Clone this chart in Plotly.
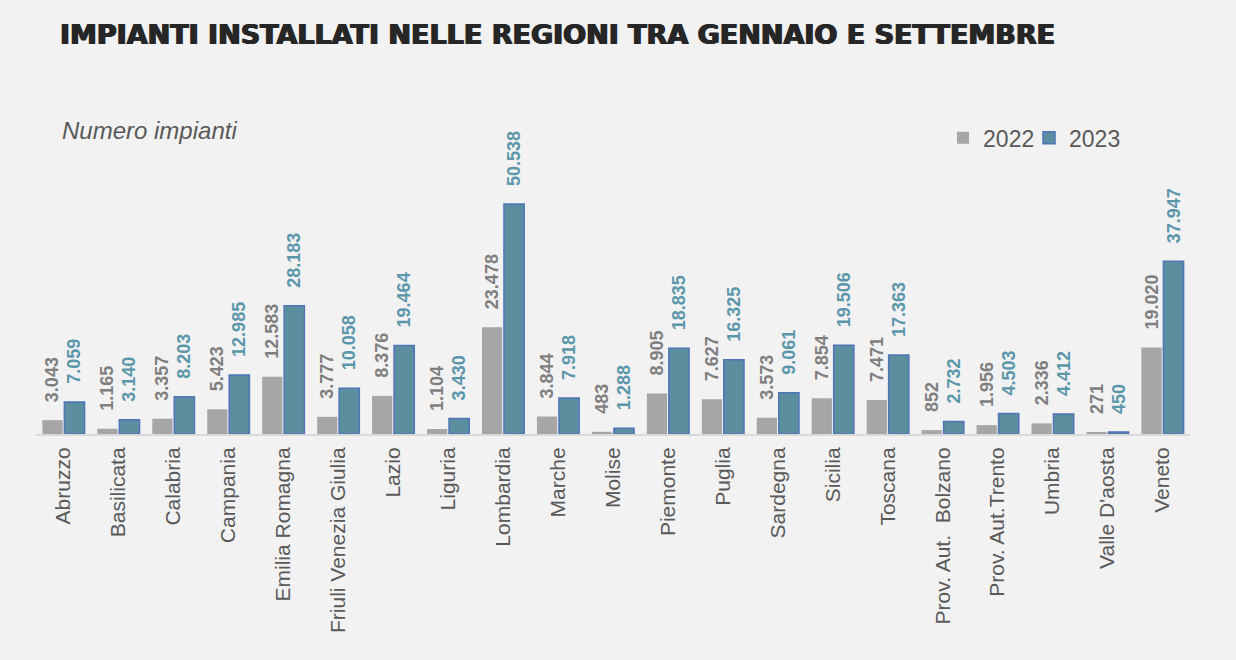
import plotly.graph_objects as go

# dati: impianti installati gen-set per regione
regioni = ["Abruzzo", "Basilicata", "Calabria", "Campania", "Emilia Romagna",
           "Friuli Venezia Giulia", "Lazio", "Liguria", "Lombardia", "Marche",
           "Molise", "Piemonte", "Puglia", "Sardegna", "Sicilia", "Toscana",
           "Prov. Aut.  Bolzano", "Prov. Aut.Trento", "Umbria", "Valle D'aosta", "Veneto"]
impianti_2022 = [3043, 1165, 3357, 5423, 12583, 3777, 8376, 1104, 23478, 3844,
                 483, 8905, 7627, 3573, 7854, 7471, 852, 1956, 2336, 271, 19020]
impianti_2023 = [7059, 3140, 8203, 12985, 28183, 10058, 19464, 3430, 50538, 7918,
                 1288, 18835, 16325, 9061, 19506, 17363, 2732, 4503, 4412, 450, 37947]

# spazi non separabili davanti al valore: staccano l'etichetta dalla barra
pad = "\u00a0\u00a0\u00a0"

fig = go.Figure()

fig.add_trace(go.Bar(x=regioni, y=impianti_2022, name="2022", legend="legend", showlegend=True,
                     marker=dict(color="#a6a6a6", line=dict(width=0)),
                     texttemplate=pad + "%{y:,}", textposition="outside", textangle=-90,
                     constraintext="none", cliponaxis=False,
                     textfont=dict(family="Liberation Sans", size=18, color="#7f7f7f", weight="bold")))

fig.add_trace(go.Bar(x=regioni, y=impianti_2023, name="2023", legend="legend2", showlegend=True,
                     marker=dict(color="#5b8fa0", line=dict(color="#4f74b8", width=1.5)),
                     texttemplate=pad + "%{y:,}", textposition="outside", textangle=-90,
                     constraintext="none", cliponaxis=False,
                     textfont=dict(family="Liberation Sans", size=18, color="#5b97aa", weight="bold")))

# una legenda per serie, cosi' le voci stanno vicine come nell'originale
leg = dict(orientation="h", y=0.943, xanchor="left", yanchor="middle",
           font=dict(size=23, color="#595959"), bgcolor="rgba(0,0,0,0)", itemwidth=30)

fig.update_layout(
    width=1236, height=660,
    paper_bgcolor="#f2f2f2", plot_bgcolor="#f2f2f2",
    separators=",.",
    barmode="group", bargap=0.2, bargroupgap=0.08,
    margin=dict(l=36, r=46, t=120, b=226),
    font=dict(family="Liberation Sans", color="#595959"),
    title=dict(text="IMPIANTI INSTALLATI NELLE REGIONI TRA GENNAIO E SETTEMBRE",
               x=0.0485, xanchor="left", y=0.947, yanchor="middle",
               font=dict(family="DejaVu Sans", size=27, color="#262626", weight="bold",
                         shadow="0.8px 0 0 #262626, -0.8px 0 0 #262626")),
    legend=dict(leg, x=0.786),
    legend2=dict(leg, x=0.8605),
    annotations=[dict(text="<i>Numero impianti</i>", xref="paper", yref="paper",
                      x=0.021, y=0.968, xanchor="left", yanchor="middle", showarrow=False,
                      font=dict(size=24, color="#595959"))],
)

fig.update_xaxes(tickangle=-90, tickfont=dict(size=21, color="#595959"),
                 showline=True, linecolor="#d9d9d9", linewidth=2,
                 showgrid=False, ticks="", ticklabelstandoff=3)
fig.update_yaxes(range=[0, 69000], visible=False, showgrid=False, zeroline=False)

fig.write_html("out.html", config={"displayModeBar": False},
               post_script="document.body.style.margin='0px';")
